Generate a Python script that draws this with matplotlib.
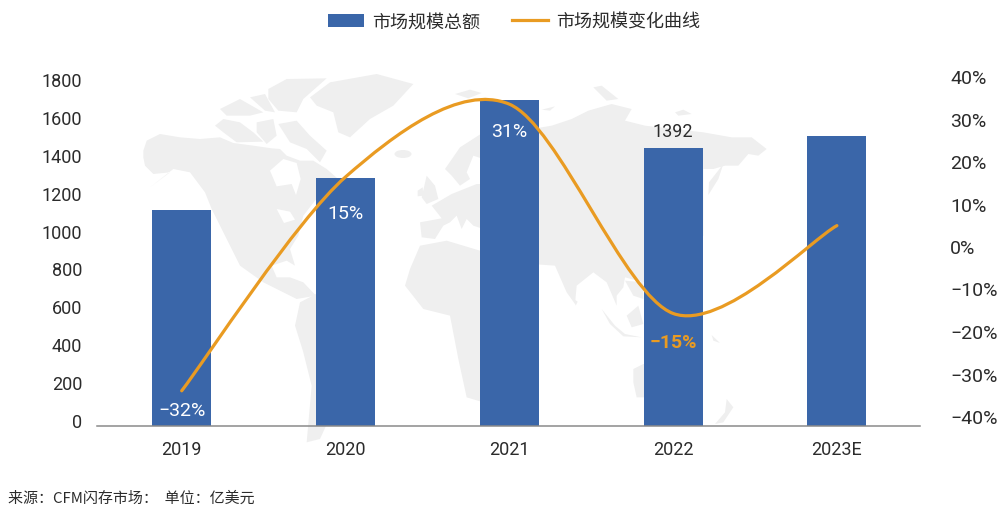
import matplotlib
matplotlib.use("Agg")
import matplotlib.pyplot as plt
from matplotlib.patches import Polygon, Ellipse, PathPatch
from matplotlib.path import Path
from matplotlib.lines import Line2D

plt.rcParams["font.family"] = ["Roboto", "Noto Sans CJK SC", "DejaVu Sans"]
plt.rcParams["axes.unicode_minus"] = True

# Chart data
years = ["2019", "2020", "2021", "2022", "2023E"]
market_size = [1079, 1242, 1630, 1392, 1452]
growth_pct = [-32, 15, 31, -15, 4.3]
size_ticks = [0, 200, 400, 600, 800, 1000, 1200, 1400, 1600, 1800]
pct_ticks = [-40, -30, -20, -10, 0, 10, 20, 30, 40]
pct_labels = [f"{v}%".replace("-", "\u2212") for v in pct_ticks]

BAR = "#3A66A9"
LINE = "#E99B22"
INK = "#2b2b2b"
LAND = "#EFEFEF"

W, H = 997, 506
fig = plt.figure(figsize=(W / 100, H / 100), dpi=100, facecolor="white")


def rect(left, right, top, bottom):
    """Axes rectangle given in pixels measured from the top-left corner."""
    return [left / W, 1 - bottom / H, (right - left) / W, (bottom - top) / H]


# Backdrop: simplified world map, in pixel coordinates
bg = fig.add_axes([0, 0, 1, 1], zorder=0)
bg.set_xlim(0, W)
bg.set_ylim(H, 0)
bg.axis("off")


def sheet(ox, oy, points):
    """Outline drawn on a 3x sheet whose corner sits at pixel (ox, oy)."""
    return [(ox + x / 3, oy + y / 3) for x, y in points]


north_america = sheet(140, 70, [
    (10, 245), (20, 215), (60, 195), (120, 205), (180, 210), (240, 205), (280, 222), (340, 230),
    (395, 238), (420, 240), (440, 260), (480, 275), (520, 275), (560, 300), (600, 335),
]) + sheet(130, 70, [
    (600, 350), (555, 395), (520, 440), (505, 500), (480, 540), (495, 590), (470, 575), (425, 590),
    (440, 625), (480, 625), (520, 640), (558, 680), (500, 690), (440, 660), (400, 640), (330, 590),
    (270, 470), (245, 420),
]) + sheet(140, 70, [
    (195, 370), (150, 310), (100, 300), (30, 355), (90, 310), (40, 315), (15, 290), (10, 265),
])

land = [
    north_america,
    # Arctic islands
    sheet(140, 70, [(225, 170), (250, 150), (300, 160), (340, 190), (370, 218), (290, 220), (250, 190)]),
    sheet(140, 70, [(240, 120), (300, 90), (370, 130), (330, 140), (260, 140)]),
    sheet(140, 70, [(330, 85), (375, 75), (405, 130), (375, 125)]),
    sheet(140, 70, [(385, 60), (440, 30), (560, 28), (490, 90), (470, 130), (415, 125), (385, 90)]),
    sheet(140, 70, [(350, 160), (400, 150), (410, 200), (380, 225), (350, 190)]),
    sheet(140, 70, [(415, 165), (470, 155), (510, 200), (560, 245), (540, 280), (500, 240), (450, 220)]),
    # Greenland
    sheet(130, 70, [(540, 85), (600, 40), (740, 15), (850, 45), (790, 110), (720, 150), (660, 205),
                    (625, 190), (610, 130), (560, 110)]),
    # South America
    sheet(130, 70, [(495, 770), (510, 700), (558, 675), (735, 740), (735, 900), (620, 1000),
                    (570, 1110), (530, 1120), (545, 950), (520, 850)]),
    # Africa
    sheet(380, 70, [(300, 545), (250, 530), (200, 515), (120, 530), (90, 600)]) +
    sheet(130, 70, [(825, 650), (880, 720), (960, 740), (985, 870), (1010, 985), (1060, 1000)]),
    # Europe
    sheet(380, 70, [(120, 460), (185, 448), (155, 410), (215, 375), (290, 345), (310, 345),
                    (310, 480), (280, 470), (260, 450), (245, 480), (230, 440), (210, 460),
                    (190, 470), (165, 510), (125, 505)]),
    sheet(380, 70, [(195, 300), (240, 235), (310, 190), (310, 270), (280, 260), (260, 310),
                    (270, 330), (240, 350), (215, 320)]),
    sheet(380, 70, [(125, 385), (140, 320), (165, 350), (175, 390), (140, 405)]),
    sheet(380, 70, [(113, 365), (128, 355), (130, 380), (113, 382)]),
    sheet(380, 70, [(225, 75), (270, 62), (305, 72), (265, 88)]),
    # Asia
    sheet(535, 70, [(-10, 180), (50, 170), (110, 150), (160, 125), (230, 105), (290, 120), (270, 155),
                    (330, 170), (505, 190), (590, 205), (650, 205), (695, 240), (670, 260),
                    (640, 255), (610, 290), (570, 290), (535, 300), (505, 300), (505, 500)]) +
    sheet(535, 250, [(325, 100), (270, 85), (265, 115), (245, 140), (245, 170), (215, 100),
                     (175, 70), (125, 110), (120, 165), (95, 130), (60, 50), (-10, 45)]),
    sheet(535, 70, [(175, 55), (200, 50), (250, 90), (215, 95)]),
    sheet(535, 70, [(20, 122), (60, 112), (45, 125)]),
    sheet(535, 70, [(420, 130), (445, 122), (470, 135), (430, 140)]),
    sheet(535, 70, [(520, 378), (522, 340), (565, 285), (550, 330)]),
    sheet(535, 250, [(116, 150), (128, 158), (122, 170)]),
    sheet(535, 250, [(200, 180), (240, 230), (270, 255), (320, 265), (265, 262), (225, 225)]),
    sheet(535, 250, [(275, 200), (310, 170), (325, 225), (290, 235)]),
    sheet(535, 250, [(270, 95), (325, 100), (325, 150), (295, 140)]),
    sheet(535, 250, [(530, 258), (555, 282), (535, 275)]),
    # Australia and New Zealand
    sheet(535, 250, [(295, 360), (325, 345), (345, 345), (345, 445), (305, 445), (295, 400)]),
    sheet(535, 250, [(575, 450), (595, 475), (565, 520), (540, 525), (570, 490)]),
]
for poly in land:
    bg.add_patch(Polygon(poly, closed=True, fc=LAND, ec="none"))
bg.add_patch(Ellipse((403, 155), 17, 8, fc=LAND, ec="none"))

# Hudson Bay and the Great Lakes cut out of the continent
inland_water = [
    sheet(140, 70, [(390, 305), (430, 270), (470, 282), (482, 330), (468, 378), (455, 345), (410, 352)]),
    sheet(130, 70, [(440, 420), (480, 428), (495, 452), (462, 462)]),
]
for poly in inland_water:
    bg.add_patch(Polygon(poly, closed=True, fc="white", ec="none"))

# Bars
PLOT = dict(left=97, right=920, top=67, bottom=426.7)
SLOT = 163.8
xlim = (-(181.7 - PLOT["left"]) / SLOT, (PLOT["right"] - 181.7) / SLOT)
positions = list(range(len(years)))

ax = fig.add_axes(rect(**PLOT), zorder=2)
ax.patch.set_alpha(0)
ax.bar(positions, market_size, width=59 / SLOT, color=BAR, zorder=2)
ax.set_xlim(*xlim)
ax.set_ylim(0, (PLOT["bottom"] - PLOT["top"]) * 1392 / 278)
ax.set_xticks(positions, years, fontsize=13, color=INK)
ax.set_yticks([])
ax.tick_params(axis="x", length=0, pad=10)
for side in ("top", "left", "right"):
    ax.spines[side].set_visible(False)
ax.spines["bottom"].set_color("#8A8A8A")
ax.spines["bottom"].set_linewidth(1.1)

# Value label above the 2022 bar
ax.annotate(str(market_size[3]), (3, market_size[3]), xytext=(0, 17), textcoords="offset pixels",
            ha="center", va="center", fontsize=13, color=INK, zorder=5)

# Growth curve on its own scale, smoothed with cubic Bezier segments
lx = fig.add_axes(rect(**PLOT), zorder=3)
lx.patch.set_alpha(0)
lx.axis("off")
lx.set_xlim(*xlim)
PX_PER_PCT = 4.55
ZERO_Y = 246.2
lx.set_ylim(-(PLOT["bottom"] - ZERO_Y) / PX_PER_PCT, (ZERO_Y - PLOT["top"]) / PX_PER_PCT)

SMOOTH = 0.15
n = len(growth_pct)
verts = [(positions[0], growth_pct[0])]
codes = [Path.MOVETO]
for i in range(n - 1):
    prev_i, next_i = max(i - 1, 0), min(i + 2, n - 1)
    c1 = (positions[i] + (positions[i + 1] - positions[prev_i]) * SMOOTH,
          growth_pct[i] + (growth_pct[i + 1] - growth_pct[prev_i]) * SMOOTH)
    c2 = (positions[i + 1] - (positions[next_i] - positions[i]) * SMOOTH,
          growth_pct[i + 1] - (growth_pct[next_i] - growth_pct[i]) * SMOOTH)
    verts += [c1, c2, (positions[i + 1], growth_pct[i + 1])]
    codes += [Path.CURVE4] * 3
lx.add_patch(PathPatch(Path(verts, codes), fc="none", ec=LINE, lw=2.3, capstyle="round"))

# Growth labels sit a fixed distance below the curve
label_drop = [19.5, 36, 27, 29]
label_style = [("white", "normal", 14), ("white", "normal", 14), ("white", "normal", 14), (LINE, "bold", 14)]
for i, drop, (colour, weight, size) in zip(range(4), label_drop, label_style):
    text = f"{growth_pct[i]}%".replace("-", "\u2212")
    lx.annotate(text, (i, growth_pct[i]), xytext=(0, -drop),
                textcoords="offset pixels", ha="center", va="center",
                fontsize=size, color=colour, fontweight=weight, zorder=6)

# Left value scale
sx = fig.add_axes(rect(97, 920, 80, 421), zorder=1)
sx.patch.set_alpha(0)
sx.set_xticks([])
sx.set_ylim(size_ticks[0], size_ticks[-1])
sx.set_yticks(size_ticks, [str(v) for v in size_ticks], fontsize=13, color=INK)
sx.tick_params(axis="y", length=0, pad=10.5)
for spine in sx.spines.values():
    spine.set_visible(False)

# Right percentage scale
px = fig.add_axes(rect(97, 920, 77, 417), zorder=1)
px.patch.set_alpha(0)
px.set_xticks([])
px.yaxis.tick_right()
px.set_ylim(pct_ticks[0], pct_ticks[-1])
px.set_yticks(pct_ticks, pct_labels, fontsize=14, color=INK)
px.tick_params(axis="y", length=0, pad=21.6)
for spine in px.spines.values():
    spine.set_visible(False)

# Legend
handles = [
    plt.Rectangle((0, 0), 1, 1, fc=BAR, ec="none"),
    Line2D([0], [0], color=LINE, lw=2.3),
]
fig.legend(handles, ["市场规模总额", "市场规模变化曲线"],
           loc="center", bbox_to_anchor=(514 / W, 1 - 22.5 / H), ncol=2, frameon=False,
           prop={"family": ["Noto Sans CJK SC", "DejaVu Sans"], "size": 13},
           handlelength=2.0, handleheight=0.7, handletextpad=0.45, columnspacing=1.75,
           labelcolor=INK)

# Source note
fig.text(8 / W, 1 - 499 / H, "来源\uff1aCFM闪存市场\uff1a  单位\uff1a亿美元",
         family=["Noto Sans CJK SC", "DejaVu Sans"], fontsize=10.8, color=INK,
         va="center", ha="left")

fig.savefig("out.png", dpi=100)
